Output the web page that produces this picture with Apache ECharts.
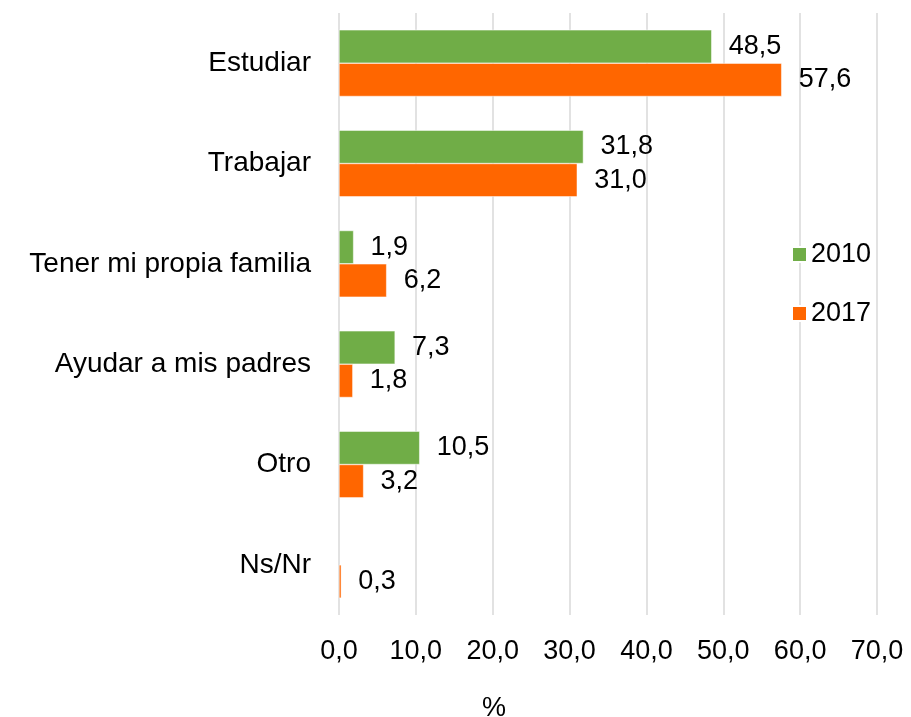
<!DOCTYPE html>
<html>
<head>
<meta charset="utf-8">
<script src="https://cdn.jsdelivr.net/npm/echarts@6/dist/echarts.min.js"></script>
<style>html,body{margin:0;padding:0;background:#fff;}#c{width:911px;height:717px;}</style>
</head>
<body>
<div id="c"></div>
<script>
const categories = ['Estudiar', 'Trabajar', 'Tener mi propia familia', 'Ayudar a mis padres', 'Otro', 'Ns/Nr'];
const values2010 = [48.5, 31.8, 1.9, 7.3, 10.5, null];
const values2017 = [57.6, 31.0, 6.2, 1.8, 3.2, 0.3];
const seriesNames = ['2010', '2017'];

const fmt = v => (v == null ? '' : Number(v).toFixed(1).replace('.', ','));
const font = 'Liberation Sans, Arial, sans-serif';
const FS = 27;

const chart = echarts.init(document.getElementById('c'));
const labelOpt = {
  show: true, position: 'right', distance: 17,
  color: '#000', fontSize: FS, fontFamily: font,
  formatter: p => fmt(p.value)
};
chart.setOption({
  animation: false,
  grid: { left: 339, right: 34, top: 13, bottom: 102, containLabel: false, outerBoundsMode: 'none' },
  legend: {
    orient: 'vertical', left: 786, top: 236,
    itemWidth: 15, itemHeight: 15, itemGap: 32,
    icon: 'rect',
    textStyle: { fontSize: FS, fontFamily: font, color: '#000', padding: [0, 0, 0, -1] },
    data: seriesNames
  },
  xAxis: {
    type: 'value', min: 0, max: 70, interval: 10,
    name: '%', nameLocation: 'middle', nameGap: 80,
    nameTextStyle: { fontSize: FS, fontFamily: font, color: '#000', padding: [0, 228, 0, 0] },
    axisLine: { show: false }, axisTick: { show: false },
    axisLabel: { fontSize: FS, fontFamily: font, color: '#000', margin: 23, formatter: v => fmt(v) },
    splitLine: { show: true, lineStyle: { color: '#d9d9d9', width: 1.5 } }
  },
  yAxis: {
    type: 'category', data: categories, inverse: true,
    axisLine: { show: false }, axisTick: { show: false },
    axisLabel: { fontSize: 28, fontFamily: font, color: '#000', margin: 28 }
  },
  series: [
    { name: seriesNames[0], type: 'bar', data: values2010, barGap: '0%', barCategoryGap: '33.6%',
      itemStyle: { color: '#70AD47', borderColor: '#fff', borderWidth: 0.5 }, label: labelOpt },
    { name: seriesNames[1], type: 'bar', data: values2017, barGap: '0%', barCategoryGap: '33.6%',
      itemStyle: { color: '#FF6600', borderColor: '#fff', borderWidth: 0.5 }, label: labelOpt }
  ]
});
</script>
</body>
</html>
